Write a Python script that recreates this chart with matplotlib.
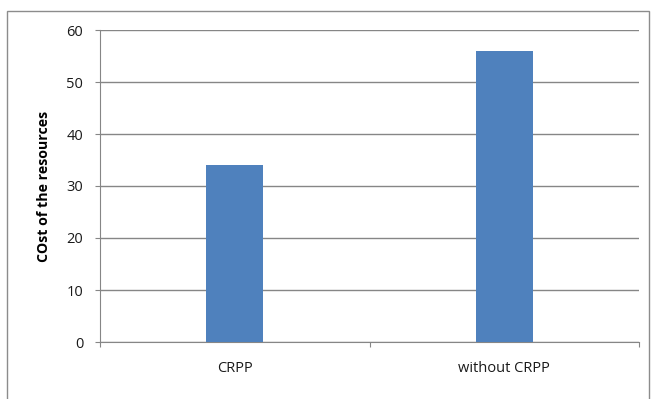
import matplotlib
matplotlib.use("Agg")
import matplotlib.pyplot as plt
from matplotlib.patches import Rectangle

categories = ["CRPP", "without CRPP"]
costs = [34, 56]
y_ticks = [0, 10, 20, 30, 40, 50, 60]

plt.rcParams['font.family'] = ['Open Sans', 'DejaVu Sans']

W, H = 654, 399
fig = plt.figure(figsize=(W / 100, H / 100), dpi=100)
fig.patch.set_facecolor("white")

# chart frame
fig.add_artist(Rectangle((7 / W, -0.01), (W - 12) / W, 1 - 11 / H + 0.01,
                         transform=fig.transFigure, fill=False,
                         edgecolor="#8c8c8c", linewidth=1.0))

left, right, top, bottom = 100, 639, 30, 342
ax = fig.add_axes([left / W, 1 - bottom / H, (right - left) / W, (bottom - top) / H])

x = range(len(categories))
ax.bar(x, costs, width=0.21, color="#4F81BD", zorder=3)

ax.set_xlim(-0.5, len(categories) - 0.5)
ax.set_ylim(0, 60)
ax.set_yticks(y_ticks)
ax.yaxis.grid(True, color="#868686", linewidth=1.0, zorder=0)
ax.set_axisbelow(True)

for s in ["top", "right"]:
    ax.spines[s].set_visible(False)
ax.spines["left"].set_color("#868686")
ax.spines["bottom"].set_color("#868686")

ax.set_xticks([-0.5, 0.5, 1.5])
ax.set_xticklabels([])
ax.set_xticks(list(x), minor=True)
ax.set_xticklabels(categories, minor=True, fontsize=10.5, color="#1a1a1a")
ax.tick_params(axis="x", which="major", length=3.6, color="#868686", direction="out")
ax.tick_params(axis="x", which="minor", length=0, pad=14)
ax.tick_params(axis="y", length=3.6, color="#868686", labelsize=10.5, labelcolor="#1a1a1a", pad=8.4)

ax.set_ylabel("COst of the resources", fontsize=10.2, fontweight="bold", labelpad=11)

fig.savefig("out.png", dpi=100)
